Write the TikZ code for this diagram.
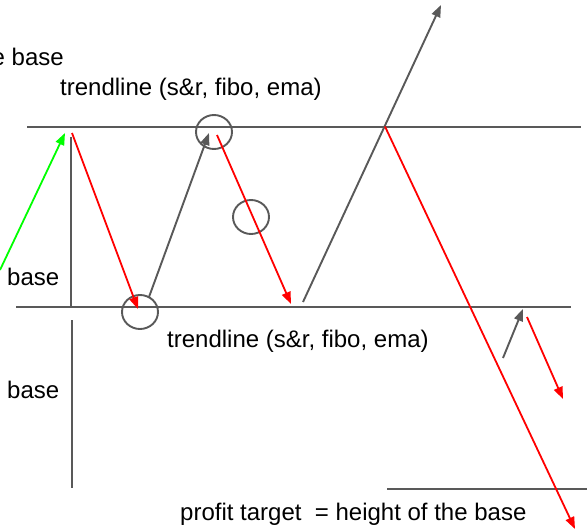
\documentclass[tikz,border=0pt]{standalone}
\usepackage{fontspec}
\setmainfont{Liberation Sans}
\usetikzlibrary{arrows.meta,shapes.geometric}
\definecolor{lgray}{HTML}{595959}
\definecolor{lred}{HTML}{FF0000}
\definecolor{lgreen}{HTML}{00FF00}
\tikzset{
  trend/.style={draw=lgray, line width=2pt},
  grayarrow/.style={draw=lgray, line width=1.9pt, -{Triangle[length=12pt,width=9pt]}, fill=lgray},
  redarrow/.style={draw=lred, line width=1.8pt, -{Triangle[length=12pt,width=9pt]}},
  greenarrow/.style={draw=lgreen, line width=1.8pt, -{Triangle[length=12pt,width=9pt]}},
  ring/.style={ellipse, draw=lgray, line width=1.9pt, minimum width=36pt, minimum height=34pt, inner sep=0pt},
  lbl/.style={inner sep=0pt, font=\fontsize{24}{28}\selectfont, text=black}
}
\begin{document}
\begin{tikzpicture}[x=1pt,y=-1pt]
\useasboundingbox[fill=white] (0,0) rectangle (587,530);
% trend lines
\coordinate (t1) at (27,126.5); \coordinate (t2) at (581,126.5);
\coordinate (b1) at (16,307); \coordinate (b2) at (571,307);
\coordinate (p1) at (387,488.5); \coordinate (p2) at (587,488.5);
\draw[trend] (t1) -- (t2);
\draw[trend] (b1) -- (b2);
\draw[trend] (p1) -- (p2);
% base verticals
\coordinate (v1) at (71,137); \coordinate (v2) at (71,307);
\coordinate (w1) at (72,320); \coordinate (w2) at (72,488);
\draw[trend] (v1) -- (v2);
\draw[trend] (w1) -- (w2);
% circles
\node[ring] (c1) at (214,132) {};
\node[ring] (c2) at (251,217) {};
\node[ring] (c3) at (140,312) {};
% arrows
\coordinate (g0) at (0,270); \coordinate (g1) at (65,133);
\draw[greenarrow] (g0) -- (g1);
\coordinate (r1a) at (72,133); \coordinate (r1b) at (138,309);
\draw[redarrow] (r1a) -- (r1b);
\coordinate (k1a) at (149,297); \coordinate (k1b) at (209,133);
\draw[grayarrow] (k1a) -- (k1b);
\coordinate (r2a) at (217,135); \coordinate (r2b) at (291,304);
\draw[redarrow] (r2a) -- (r2b);
\coordinate (k2a) at (303,302); \coordinate (k2b) at (441,5);
\draw[grayarrow] (k2a) -- (k2b);
\coordinate (r3a) at (385,126.5); \coordinate (r3b) at (575,529);
\draw[redarrow] (r3a) -- (r3b);
\coordinate (k3a) at (503,358); \coordinate (k3b) at (523,309);
\draw[grayarrow] (k3a) -- (k3b);
\coordinate (r4a) at (527,317); \coordinate (r4b) at (563,399);
\draw[redarrow] (r4a) -- (r4b);
% labels
\node[lbl, anchor=base east] (l0) at (64,65) {e base};
\node[lbl, anchor=base west] (l1) at (60,95) {trendline (s\&r, fibo, ema)};
\node[lbl, anchor=base west] (l2) at (7,285) {base};
\node[lbl, anchor=base west] (l3) at (167,347) {trendline (s\&r, fibo, ema)};
\node[lbl, anchor=base west] (l4) at (7,398) {base};
\node[lbl, anchor=base west] (l5) at (180,520) {profit target~ = height of the base};
\end{tikzpicture}
\end{document}
